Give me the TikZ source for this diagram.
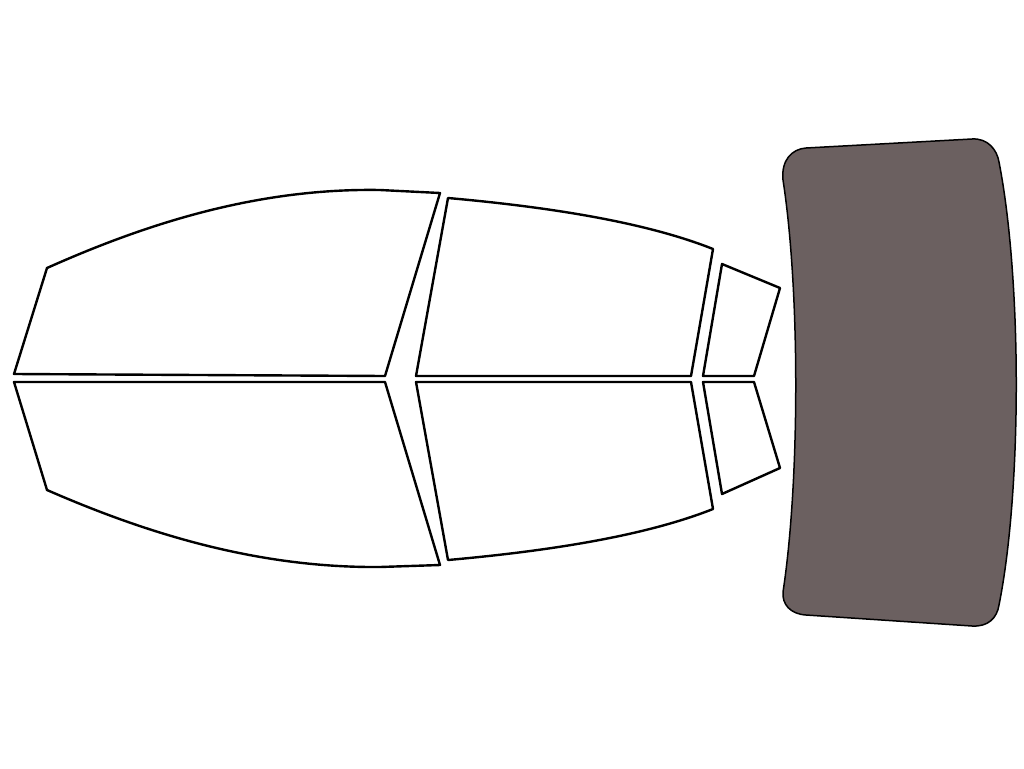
\documentclass[tikz,border=0pt]{standalone}
\usepackage{tikz}
\definecolor{tintgray}{RGB}{107,96,96}
\begin{document}
\begin{tikzpicture}[x=1pt,y=-1pt,line join=round]
\tikzset{pane/.style={draw=black, line width=2.4pt, fill=white}}
\useasboundingbox (0,0) rectangle (1024,768);

% Front door
\draw[pane] (14,374) -- (47,268) .. controls (150,222) and (260,188) .. (380,190)
  -- (440,193) -- (385,376) -- cycle;
\draw[pane] (14,382) -- (385,382) -- (440,565) -- (380,567)
  .. controls (260,568) and (150,535) .. (47,490) -- cycle;

% Rear door
\draw[pane] (448,198) .. controls (560,208) and (650,224) .. (713,249)
  -- (691,376) -- (416,376) -- cycle;
\draw[pane] (416,382) -- (691,382) -- (713,509)
  .. controls (650,534) and (560,550) .. (448,560) -- cycle;

% Quarter glass
\draw[pane] (722,264) -- (780,288) -- (754,376) -- (703,376) -- cycle;
\draw[pane] (703,382) -- (754,382) -- (780,468) -- (722,494) -- cycle;

% Rear window
\draw[line width=1.5pt, fill=tintgray]
  (806,148) -- (972,139) .. controls (988,138) and (997,150) .. (999,162)
  .. controls (1022,280) and (1022,490) .. (999,605)
  .. controls (997,618) and (988,627) .. (972,626)
  -- (806,615) .. controls (790,614) and (782,604) .. (783,592)
  .. controls (800,480) and (800,290) .. (783,180)
  .. controls (781,160) and (792,149) .. cycle;
\end{tikzpicture}
\end{document}
